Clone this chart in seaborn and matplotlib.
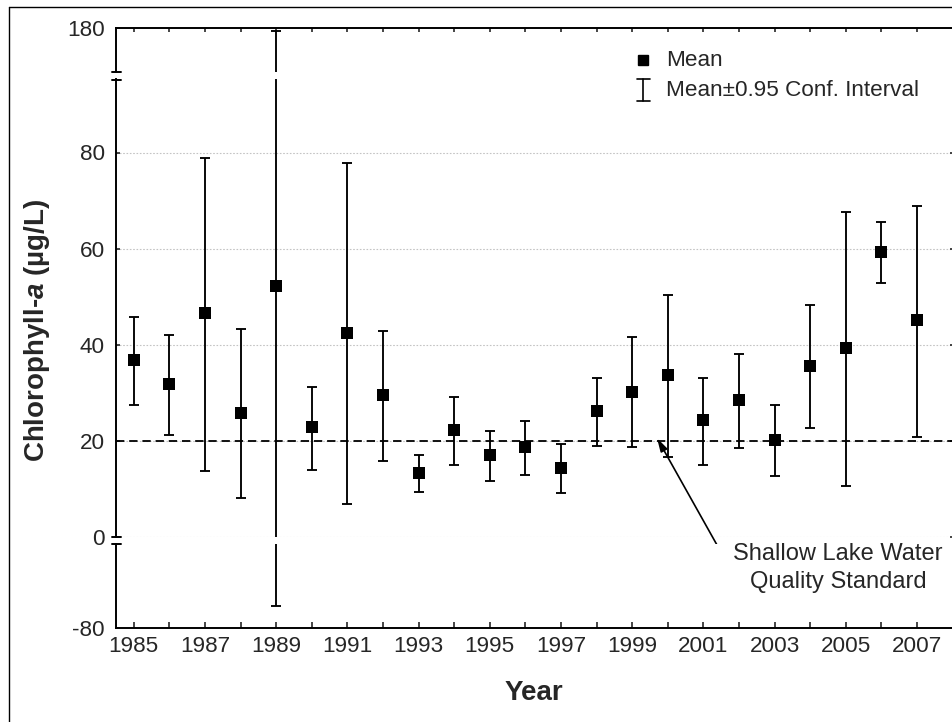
import numpy as np
import pandas as pd
import matplotlib
matplotlib.use("Agg")
import matplotlib.pyplot as plt
import seaborn as sns
from matplotlib.lines import Line2D

# ---------------- data ----------------
years = list(range(1985, 2008))
mean = [36.8, 31.9, 46.6, 25.8, 52.2, 22.9, 42.5, 29.6, 13.4, 22.4, 17.2, 18.7,
        14.5, 26.2, 30.3, 33.7, 24.3, 28.5, 20.2, 35.7, 39.4, 59.4, 45.2]
ci_low = [27.5, 21.3, 13.7, 8.2, -75.4, 13.9, 6.9, 15.8, 9.5, 15.1, 11.8, 12.9,
          9.3, 19.0, 18.8, 16.6, 15.0, 18.6, 12.7, 22.8, 10.7, 52.9, 20.9]
ci_high = [45.8, 42.0, 78.9, 43.3, 179.4, 31.2, 77.8, 42.9, 17.1, 29.2, 22.0, 24.2,
           19.5, 33.2, 41.6, 50.3, 33.1, 38.1, 27.5, 48.2, 67.7, 65.6, 68.9]
standard = 20
ytick_mid = [0, 20, 40, 60, 80]
ytick_top = [180]
ytick_low = [-80]
xtick_labels = [str(y) if y % 2 == 1 else "" for y in years]

df = pd.DataFrame({"Year": years, "Mean": mean, "Low": ci_low, "High": ci_high})

# ---------------- style ----------------
sns.set_style("white")
plt.rcParams["font.family"] = ["Liberation Sans", "DejaVu Sans"]
plt.rcParams["mathtext.fontset"] = "custom"
plt.rcParams["mathtext.it"] = "Liberation Sans:italic:bold"
plt.rcParams["mathtext.rm"] = "Liberation Sans:bold"
plt.rcParams["mathtext.bf"] = "Liberation Sans:bold"
plt.rcParams["lines.scale_dashes"] = False

FS = 16.2

W, H = 953, 722
fig = plt.figure(figsize=(W / 100, H / 100), dpi=100)
fig.patch.set_facecolor("white")

K = 4.81          # pixels per unit on the y scale
PXY = 35.6        # pixels per year
x0, x1 = 116, 954
xmin = 1984.5
xmax = xmin + (x1 - x0) / PXY


def add_ax(top, bottom):
    return fig.add_axes([x0 / W, 1 - bottom / H, (x1 - x0) / W, (bottom - top) / H])


ax_top = add_ax(28, 72)
ax_mid = add_ax(79, 537.3)
ax_low = add_ax(543.7, 628)
ax_top.set_ylim(180 - 44 / K, 180)
ax_mid.set_ylim(0, 458.3 / K)
ax_low.set_ylim(-80, -80 + 84.3 / K)

yerr = [df["Mean"] - df["Low"], df["High"] - df["Mean"]]
for ax in (ax_top, ax_mid, ax_low):
    ax.set_facecolor("white")
    ax.errorbar(df["Year"], df["Mean"], yerr=yerr, fmt="none", ecolor="black",
                elinewidth=1.35, capsize=3.4, capthick=1.35, zorder=3)
    ax.set_xlim(xmin, xmax)
    for s in ax.spines.values():
        s.set_linewidth(1.4)
        s.set_color("black")
    ax.tick_params(axis="y", direction="in", length=3, width=1.2, labelsize=FS,
                   pad=8, left=True, right=True, labelleft=True, labelright=False)

# grid + standard line
ax_mid.set_yticks(ytick_mid)
ax_mid.set_yticklabels([str(v) for v in ytick_mid])
ax_mid.grid(axis="y", color="#c4c4c4", linestyle=(0, (1.2, 1.2)), linewidth=0.8)
ax_mid.grid(axis="x", visible=False)
ax_mid.axhline(standard, color="black", lw=1.3, dashes=(6, 3.5), zorder=2)

sns.scatterplot(data=df, x="Year", y="Mean", marker="s", s=66, color="black",
                linewidth=0, ax=ax_mid, zorder=5, legend=False)
ax_mid.set_xlabel("")
ax_mid.set_ylabel("")

ax_top.set_yticks(ytick_top)
ax_top.set_yticklabels([str(v) for v in ytick_top])
ax_low.set_yticks(ytick_low)
ax_low.set_yticklabels([str(v) for v in ytick_low])

# spines
ax_top.spines["bottom"].set_visible(False)
ax_mid.spines["top"].set_visible(False)
ax_mid.spines["bottom"].set_visible(False)
ax_low.spines["top"].set_visible(False)

# x ticks
ax_mid.set_xticks([])
ax_top.set_xticks(years)
ax_top.tick_params(axis="x", direction="in", length=3, width=1.2, top=True,
                   bottom=False, labeltop=False, labelbottom=False)
ax_low.set_xticks(years)
ax_low.set_xticklabels(xtick_labels)
ax_low.tick_params(axis="x", direction="in", length=4, width=1.2, top=False,
                   bottom=True, labelsize=FS, pad=6)

# break marks on the left spine
for yb in (72, 79.5, 537, 543.5):
    fig.add_artist(Line2D([112 / W, 121 / W], [1 - yb / H] * 2, color="black",
                          lw=1.4, transform=fig.transFigure))

# axis titles
fig.text(534 / W, 1 - 693 / H, "Year", fontsize=20, fontweight="bold",
         ha="center", va="center")
fig.text(37 / W, 1 - 330 / H, "Chlorophyll-$a$ (µg/L)", fontsize=20,
         fontweight="bold", rotation=90, ha="center", va="center")

# legend (manual)
fig.add_artist(Line2D([643 / W], [1 - 60 / H], marker="s", ms=7.4, color="black",
                      ls="none", transform=fig.transFigure))
fig.text(666 / W, 1 - 61 / H, "Mean", fontsize=FS, ha="left", va="center")
fig.add_artist(Line2D([643.5 / W] * 2, [1 - 79 / H, 1 - 101 / H], color="black",
                      lw=1.2, transform=fig.transFigure))
for yc in (79, 101):
    fig.add_artist(Line2D([637 / W, 650 / W], [1 - yc / H] * 2, color="black",
                          lw=1.2, transform=fig.transFigure))
fig.text(666 / W, 1 - 91 / H, "Mean±0.95 Conf. Interval", fontsize=FS,
         ha="left", va="center")

# annotation
ax_mid.annotate("", xy=(xmin + (657 - x0) / PXY, (537.3 - 438) / K), xycoords="data",
                xytext=(717, H - 545), textcoords="figure pixels",
                annotation_clip=False,
                arrowprops=dict(arrowstyle="-|>,head_length=0.8,head_width=0.22",
                                color="black", lw=1.2, shrinkA=0, shrinkB=0))
fig.text(838 / W, 1 - 568 / H, "Shallow Lake Water\nQuality Standard", fontsize=17,
         ha="center", va="center", linespacing=1.35)

# outer frame
fig.add_artist(Line2D([9 / W, 1.0], [1 - 7.3 / H] * 2, color="black", lw=1.0,
                      transform=fig.transFigure))
fig.add_artist(Line2D([9.3 / W] * 2, [1 - 7 / H, 0], color="black", lw=1.0,
                      transform=fig.transFigure))

fig.savefig("out.png", dpi=100)
